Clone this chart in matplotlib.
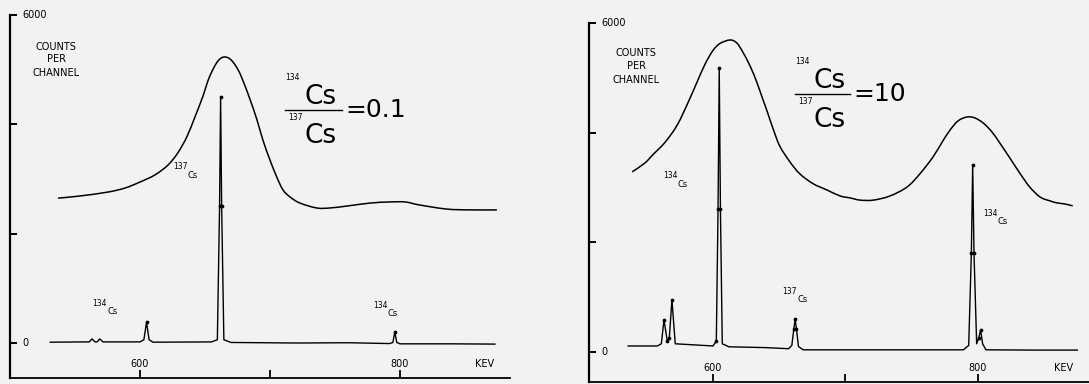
import numpy as np
import matplotlib
matplotlib.use("Agg")
import matplotlib.pyplot as plt
from matplotlib.path import Path
from matplotlib.patches import PathPatch

# Scintillator (broad) spectra, energy in keV and counts per channel
nai_low_kev = [537, 554, 575, 588.5, 600, 611.5, 621.5, 629, 636, 642, 648.5, 652, 656,
               660, 664, 668, 671.5, 675.5, 679, 684.5, 690, 694.5, 700, 705.5, 710,
               715.5, 723, 736, 746, 759, 777, 792, 804, 815, 836, 854, 874.5]
nai_low_cnt = [2650, 2690, 2760, 2835, 2945, 3075, 3255, 3475, 3770, 4120, 4520, 4780, 5000,
               5160, 5230, 5215, 5140, 4995, 4810, 4465, 4080, 3715, 3345, 3020, 2800,
               2670, 2560, 2470, 2470, 2505, 2560, 2580, 2580, 2525, 2450, 2435, 2435]

nai_high_kev = [539, 548.5, 554.5, 564, 573, 581, 588, 594, 600, 605.5, 613, 618, 622.5,
                628, 633, 637, 641, 645.5, 650.5, 658, 665.5, 675.5, 686, 696, 703.5,
                711, 721, 733.5, 746.5, 756, 766, 773, 779, 785, 791.5, 797.5, 804,
                810.5, 816.5, 824, 831.5, 839, 847, 854.5, 859.5, 865.5, 871.5]
nai_high_cnt = [3285, 3445, 3595, 3830, 4140, 4540, 4925, 5250, 5500, 5630, 5690, 5635, 5470,
                5215, 4925, 4650, 4380, 4060, 3750, 3470, 3250, 3070, 2955, 2845, 2810,
                2770, 2770, 2845, 3010, 3245, 3555, 3830, 4050, 4215, 4285, 4270, 4175,
                4015, 3810, 3540, 3265, 3010, 2825, 2755, 2720, 2700, 2665]

# Germanium (sharp) spectra
ge_low_kev = [531, 556, 561, 563, 565.5, 567, 569, 571.5, 600, 603, 605, 607, 610,
              655, 659.5, 661.2, 662, 662.8, 664.5, 670, 720, 760, 792, 794.5, 796,
              797.5, 800, 840, 873]
ge_low_cnt = [15, 20, 20, 75, 20, 20, 75, 20, 20, 60, 380, 60, 15,
              20, 60, 2500, 4500, 2500, 60, 10, 0, 5, -10, 10, 200,
              10, -15, -15, -20]

ge_high_kev = [536, 558, 561, 563, 565.5, 567, 569, 571.5, 600, 602.5, 603.8, 604.7,
               605.6, 607, 612, 640, 657, 659.5, 661, 662, 663, 664.5, 668, 700, 760,
               789, 793, 795, 796, 797, 799, 800.5, 802, 803.5, 806, 840, 875]
ge_high_cnt = [110, 110, 150, 585, 200, 250, 950, 150, 110, 200, 2600, 5180,
               2600, 150, 95, 80, 60, 120, 420, 600, 420, 100, 40, 40, 40,
               40, 120, 1800, 3410, 1800, 150, 250, 400, 150, 40, 35, 35]

y_ticks = [0, 2000, 4000, 6000]
y_labels = {0: "0", 6000: "6000"}
x_ticks = [600, 700, 800]
x_labels = {600: "600", 800: "800"}

FW, FH = 1089, 384
fig = plt.figure(figsize=(FW / 100, FH / 100), dpi=100, facecolor="#f2f2f2")
plt.rcParams["font.family"] = ["DejaVu Sans"]


def px(x, y):
    return x / FW, 1 - y / FH


def smooth_curve(ax, xs, ys, **kw):
    # Catmull-Rom style bezier through the measured points
    p = np.column_stack([xs, ys]).astype(float)
    verts = [p[0]]
    codes = [Path.MOVETO]
    for i in range(len(p) - 1):
        p0 = p[i - 1] if i > 0 else p[i]
        p3 = p[i + 2] if i + 2 < len(p) else p[i + 1]
        c1 = p[i] + (p[i + 1] - p0) / 6
        c2 = p[i + 1] - (p3 - p[i]) / 6
        verts += [c1, c2, p[i + 1]]
        codes += [Path.CURVE4] * 3
    ax.add_patch(PathPatch(Path(verts, codes), fill=False, **kw))


def panel(rect, xlim, ylim, nai_k, nai_c, ge_k, ge_c):
    ax = fig.add_axes(rect)
    ax.set_facecolor("none")
    smooth_curve(ax, nai_k, nai_c, color="black", lw=1.1)
    ge_c = np.array(ge_c)
    marks = list(np.where(ge_c > 150)[0])
    ax.plot(ge_k, ge_c, color="black", lw=1.0, marker="o", ms=1.7,
            markevery=marks)
    ax.set_xlim(*xlim)
    ax.set_ylim(*ylim)
    for s in ["top", "right"]:
        ax.spines[s].set_visible(False)
    ax.spines["left"].set_linewidth(1.6)
    ax.spines["bottom"].set_linewidth(1.3)
    ax.set_yticks(y_ticks)
    ax.set_xticks(x_ticks)
    ax.tick_params(axis="y", direction="in", length=5, width=1.4, labelleft=False)
    ax.tick_params(axis="x", direction="in", length=6, width=1.3, labelbottom=False)
    for v, t in y_labels.items():
        ax.annotate(t, xy=(0, v), xycoords=ax.get_yaxis_transform(),
                    xytext=(9, 0), textcoords="offset points",
                    ha="left", va="center", fontsize=7)
    for v, t in x_labels.items():
        ax.annotate(t, xy=(v, 0), xycoords=ax.get_xaxis_transform(),
                    xytext=(0, 10), textcoords="offset points",
                    ha="center", va="center", fontsize=7)
    ax.annotate("KEV", xy=(1, 0), xycoords="axes fraction",
                xytext=(-18, 10), textcoords="offset points",
                ha="center", va="center", fontsize=7)
    return ax


ax1 = panel([10 / FW, 6 / FH, 500 / FW, 363 / FH], (500, 884.6), (-640, 6000),
            nai_low_kev, nai_low_cnt, ge_low_kev, ge_low_cnt)
ax2 = panel([589 / FW, 2 / FH, 500 / FW, 359 / FH], (506.4, 883.8), (-547, 6000),
            nai_high_kev, nai_high_cnt, ge_high_kev, ge_high_cnt)

# axis captions
for cx, ys in [(56, (47, 59, 73)), (636, (53, 66, 80))]:
    for t, y in zip(["COUNTS", "PER", "CHANNEL"], ys):
        fig.text(*px(cx, y), t, ha="center", va="center", fontsize=7)


def iso(x, y, mass):
    fig.text(*px(x, y), mass, ha="left", va="center", fontsize=5.5)
    fig.text(*px(x + 15, y + 8), "Cs", ha="left", va="center", fontsize=6)


iso(173, 167, "137")
iso(92, 304, "134")
iso(373, 305, "134")
iso(663, 176, "134")
iso(782, 292, "137")
iso(983, 214, "134")


def ratio(x0, x1, y_bar, value):
    fig.text(*px(x0, y_bar - 32), "134", ha="left", va="center", fontsize=5.5)
    fig.text(*px(x0 + 3, y_bar + 8), "137", ha="left", va="center", fontsize=5.5)
    fig.text(*px((x0 + x1) / 2 + 7, y_bar - 13), "Cs", ha="center", va="center", fontsize=19)
    fig.text(*px((x0 + x1) / 2 + 7, y_bar + 26), "Cs", ha="center", va="center", fontsize=19)
    fig.add_artist(plt.Line2D([x0 / FW, x1 / FW], [1 - y_bar / FH] * 2,
                              color="black", lw=1.0))
    fig.text(*px(x1 + 3, y_bar), "=" + value, ha="left", va="center", fontsize=18)


ratio(285, 342, 110, "0.1")
ratio(795, 850, 94, "10")

fig.savefig("out.png", dpi=100, facecolor=fig.get_facecolor())
